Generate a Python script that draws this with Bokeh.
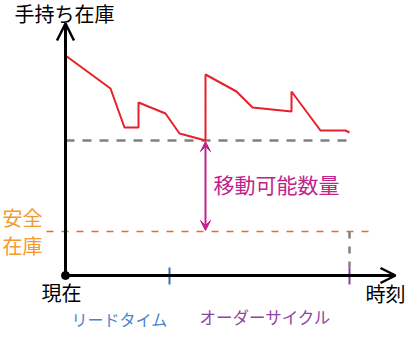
from bokeh.plotting import figure
from bokeh.models import Range1d, Arrow, OpenHead, VeeHead
from bokeh.core.properties import value
from bokeh.embed import file_html
from bokeh.resources import INLINE

# inventory curve (time, on-hand stock)
t_stock = [0, 45, 59, 73, 73, 100, 114, 140, 140, 171, 187, 226, 226, 255, 280, 284]
q_stock = [220, 187, 148, 148, 173, 162, 142, 135, 201, 184, 168, 164, 184, 145, 145, 143]

safety_level = 44
available_level = 135
lead_time = 104
order_cycle = 284
order_time = 140
t_axis_end = 330
q_axis_end = 252

FONT = "Noto Sans CJK JP"

p = figure(width=415, height=360, output_backend="svg", toolbar_location=None,
           x_range=Range1d(-65, 350), y_range=Range1d(-85, 275), min_border=0)
p.axis.visible = False
p.grid.visible = False
p.outline_line_color = None
p.background_fill_color = "white"

# safety stock dashed line
p.line([-19, 305], [safety_level, safety_level], line_color="#f26a1b", line_width=1.6,
       line_dash="7 8")
# available level dashed gray
p.line([0, order_cycle], [available_level, available_level], line_color="#808080",
       line_width=2.5, line_dash="9 8")
# vertical gray dashed at cycle end
p.line([order_cycle, order_cycle], [safety_level, 8], line_color="#808080",
       line_width=2.5, line_dash="7 8")

# stock curve
p.line(t_stock, q_stock, line_color="#e8202a", line_width=2)

# axes
p.add_layout(Arrow(end=OpenHead(size=17, line_width=2.5, line_color="black"),
                   x_start=0, y_start=0, x_end=0, y_end=q_axis_end,
                   line_width=3, line_color="black"))
p.add_layout(Arrow(end=OpenHead(size=15, line_width=2.5, line_color="black"),
                   x_start=0, y_start=0, x_end=t_axis_end, y_end=0,
                   line_width=3, line_color="black"))
p.scatter([0], [0], size=8, color="black")

# ticks
p.line([lead_time, lead_time], [8, -9], line_color="#3a6fb5", line_width=2)
p.line([order_cycle, order_cycle], [8, -9], line_color="#8a3ea0", line_width=2)

# double arrow
p.add_layout(Arrow(start=VeeHead(size=10, fill_color="#c0248c", line_color="#c0248c"),
                   end=VeeHead(size=10, fill_color="#c0248c", line_color="#c0248c"),
                   x_start=order_time, y_start=available_level - 1,
                   x_end=order_time, y_end=safety_level + 1,
                   line_width=2, line_color="#c0248c"))

def label(x, y, s, color, size):
    p.text([x], [y], text=[s], text_color=color, text_font=value(FONT),
           text_font_size=size, text_baseline="top", text_align="left")

label(-51, 277, "手持ち在庫", "black", "20px")
label(-63, 73, "安全", "#f39a2e", "20px")
label(-63, 45, "在庫", "#f39a2e", "20px")
label(-24, -2, "現在", "black", "20px")
label(300, -3, "時刻", "black", "20px")
label(148, 107, "移動可能数量", "#c0248c", "21px")
label(6, -31, "リードタイム", "#4a86c8", "16px")
label(134, -29, "オーダーサイクル", "#8e44a0", "16.5px")

open("out.html", "w").write(file_html(p, INLINE))
